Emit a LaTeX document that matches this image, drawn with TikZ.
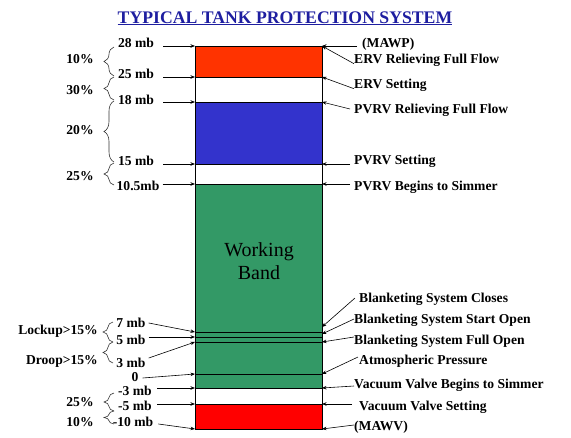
\documentclass[tikz,border=0pt]{standalone}
\usepackage{fontspec}
\setmainfont{Liberation Serif}
\usetikzlibrary{arrows.meta,decorations.pathreplacing}
\definecolor{topred}{RGB}{255,51,0}
\definecolor{tankblue}{RGB}{51,51,204}
\definecolor{tankgreen}{RGB}{51,153,102}
\definecolor{botred}{RGB}{255,0,0}
\definecolor{titleblue}{RGB}{30,30,160}
\begin{document}
\begin{tikzpicture}[x=1pt,y=-1pt,
  lbl/.style={font=\fontsize{13.6}{14}\selectfont\bfseries, inner sep=0pt, text height=9pt, text depth=0pt},
  rl/.style={lbl,anchor=west},
  ptr/.style={line width=0.6pt,-{Stealth[length=4.5pt,width=3.5pt]}},
  brc/.style={decorate,decoration={brace,amplitude=10pt},line width=0.6pt,black!80},
  lvl/.style={line width=0.7pt}]
\useasboundingbox (0,0) rectangle (571,437);

% title
\node[anchor=base, inner sep=0pt, text=titleblue, font=\fontsize{17.7}{18}\selectfont\bfseries] (title) at (285,23) {\underline{TYPICAL TANK PROTECTION SYSTEM}};

% tank
\fill[topred] (195,46) rectangle (322,77);
\fill[tankblue] (195,102) rectangle (322,164);
\fill[tankgreen] (195,184) rectangle (322,388);
\fill[botred] (195,404) rectangle (322,429);
\foreach \yy in {77,102,164,184,332,337,342,374,388,404}
  \draw[lvl] (195,\yy) -- (322,\yy);
\draw[lvl] (195,46) rectangle (322,429);
\node[align=center, inner sep=0pt, font=\fontsize{20}{23}\selectfont] (wb) at (259,261) {Working\\Band};

% level coordinates
\coordinate (L28) at (195,46);   \coordinate (R28) at (322,46);
\coordinate (L25) at (195,77);   \coordinate (R25) at (322,77);
\coordinate (L18) at (195,102);  \coordinate (R18) at (322,102);
\coordinate (L15) at (195,164);  \coordinate (R15) at (322,164);
\coordinate (L105) at (195,184); \coordinate (R105) at (322,184);
\coordinate (L7) at (195,332);   \coordinate (Rbc) at (322,327);
\coordinate (L5) at (195,337);   \coordinate (Rbs) at (322,334);
\coordinate (L3) at (195,342);   \coordinate (R3) at (322,342);
\coordinate (L0) at (195,374);   \coordinate (R0) at (322,374);
\coordinate (Lm3) at (195,388);  \coordinate (Rm3) at (322,388);
\coordinate (Lm5) at (195,404);  \coordinate (Rm5) at (322,404);
\coordinate (Lm10) at (195,429); \coordinate (Rm10) at (322,429);

% left value labels
\node[lbl] (v28) at (136,43) {28 mb};
\node[lbl] (v25) at (136,74) {25 mb};
\node[lbl] (v18) at (136,100) {18 mb};
\node[lbl] (v15) at (136,161) {15 mb};
\node[lbl] (v105) at (138,186) {10.5mb};
\node[lbl] (v7) at (131,323) {7 mb};
\node[lbl] (v5) at (131,340) {5 mb};
\node[lbl] (v3) at (131,363) {3 mb};
\node[lbl] (v0) at (135,376.5) {0};
\node[lbl] (vm3) at (135,390.5) {-3 mb};
\node[lbl] (vm5) at (135,406) {-5 mb};
\node[lbl] (vm10) at (133,422) {-10 mb};

\draw[ptr] ([xshift=9pt]v28.east |- L28) -- (L28);
\draw[ptr] ([xshift=9pt]v25.east |- L25) -- (L25);
\draw[ptr] ([xshift=9pt]v18.east |- L18) -- (L18);
\draw[ptr] ([xshift=9pt]v15.east |- L15) -- (L15);
\draw[ptr] ([xshift=3pt]v105.east |- L105) -- (L105);
\draw[ptr] ([xshift=3pt]v7.east) -- (L7);
\draw[ptr] ([xshift=3pt]v5.east |- L5) -- (L5);
\draw[ptr] ([xshift=3pt,yshift=5pt]v3.east) -- (L3);
\draw[ptr] ([xshift=4pt,yshift=-1.5pt]v0.east) -- (L0);
\draw[ptr] ([xshift=5pt]vm3.east |- Lm3) -- (Lm3);
\draw[ptr] ([xshift=5pt]vm5.east |- Lm5) -- (Lm5);
\draw[ptr] ([xshift=5pt,yshift=-2pt]vm10.east) -- (Lm10);

% braces and percentages
\draw[brc] (114,76) -- (114,47);
\draw[brc] (114,100) -- (114,77);
\draw[brc] (114,162) -- (114,101);
\draw[brc] (114,185) -- (114,163);
\node[lbl] (p10a) at (80,59) {10\%};
\node[lbl] (p30) at (80,90) {30\%};
\node[lbl] (p20) at (80,130) {20\%};
\node[lbl] (p25a) at (80,176) {25\%};

\draw[brc] (113,342) -- (113,322);
\draw[brc] (113,363) -- (113,342);
\node[lbl,anchor=east] (lock) at (98,330) {Lockup>15\%};
\node[lbl,anchor=east] (droop) at (98,360) {Droop>15\%};

\draw[brc] (114,411) -- (114,393);
\draw[brc] (114,424) -- (114,411);
\node[lbl] (p25b) at (80,402) {25\%};
\node[lbl] (p10b) at (80,422) {10\%};

% right labels
\node[rl] (mawp) at (362,43) {(MAWP)};
\node[rl] (ervf) at (354,59) {ERV Relieving Full Flow};
\node[rl] (ervs) at (354,84) {ERV Setting};
\node[rl] (pvf) at (354,109) {PVRV Relieving Full Flow};
\node[rl] (pvs) at (354,160) {PVRV Setting};
\node[rl] (pvsim) at (354,186) {PVRV Begins to Simmer};
\node[rl] (bclose) at (359,298) {Blanketing System Closes};
\node[rl] (bstart) at (354,319) {Blanketing System Start Open};
\node[rl] (bfull) at (354,340) {Blanketing System Full Open};
\node[rl] (atm) at (359,360) {Atmospheric Pressure};
\node[rl] (vsim) at (354,384) {Vacuum Valve Begins to Simmer};
\node[rl] (vset) at (359,406) {Vacuum Valve Setting};
\node[rl] (mawv) at (354,426) {(MAWV)};

\draw[ptr] ([xshift=-5pt]mawp.west |- R28) -- (R28);
\draw[ptr] (ervf.south west) -- (R28);
\draw[ptr] (ervs.south west) -- (R25);
\draw[ptr] ([xshift=-4pt]pvf.west) -- (R18);
\draw[ptr] ([xshift=-4pt]pvs.west |- R15) -- (R15);
\draw[ptr] ([xshift=-4pt]pvsim.west |- R105) -- (R105);
\draw[ptr] ([xshift=-4pt]bclose.west) -- (Rbc);
\draw[ptr] (bstart.west) -- (Rbs);
\draw[ptr] ([yshift=3pt]bfull.west) -- (R3);
\draw[ptr] ([xshift=-1pt,yshift=3pt]atm.west) -- (R0);
\draw[ptr] ([yshift=-2pt]vsim.west) -- (Rm3);
\draw[ptr] ([xshift=-7pt]vset.west |- Rm5) -- (Rm5);
\draw[ptr] ([yshift=1pt]mawv.west) -- (Rm10);
\end{tikzpicture}
\end{document}
